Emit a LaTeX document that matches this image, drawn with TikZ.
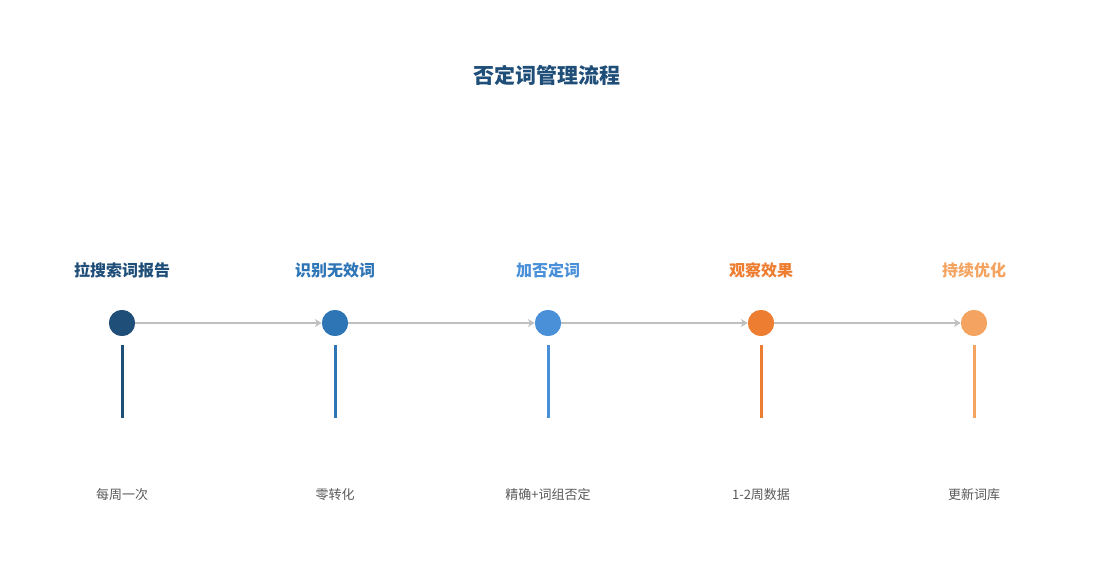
\documentclass[tikz,border=0pt]{standalone}
\usepackage{fontspec}
\newfontfamily\cjk{Noto Sans CJK SC}
\usetikzlibrary{arrows.meta}
\definecolor{c1}{HTML}{1F4E79}
\definecolor{c2}{HTML}{2E75B6}
\definecolor{c3}{HTML}{4A90D9}
\definecolor{c4}{HTML}{ED7D31}
\definecolor{c5}{HTML}{F4A460}
\definecolor{ln}{HTML}{BFBFBF}
\definecolor{tx}{HTML}{595959}
\begin{document}
\begin{tikzpicture}[x=1pt,y=-1pt,
  dot/.style={circle,fill=#1,minimum size=26pt,inner sep=0pt},
  head/.style={font=\cjk\bfseries\fontsize{16}{18}\selectfont,text=#1},
  note/.style={font=\cjk\fontsize{13}{15}\selectfont,text=tx},
  conn/.style={ln,line width=2.5pt,-{Stealth[length=7pt,width=8pt]}},
  stem/.style={#1,line width=3pt}]
\useasboundingbox (0,0) rectangle (1095,585);
\node[font=\cjk\bfseries\fontsize{21}{24}\selectfont,text=c1] (t) at (547,75) {否定词管理流程};
\foreach \i/\x/\c/\h/\n in {1/122/c1/拉搜索词报告/每周一次,2/335/c2/识别无效词/零转化/不相关,3/548/c3/加否定词/精确+词组否定,4/761/c4/观察效果/1-2周数据,5/974/c5/持续优化/更新词库}{
  \node[dot=\c] (d\i) at (\x,323) {};
  \node[head=\c] (h\i) at (\x,270) {\h};
  \node[note] (n\i) at (\x,495) {\n};
  \coordinate (s\i) at (\x,345);
  \coordinate (e\i) at (\x,418);
  \draw[stem=\c] (s\i) -- (e\i);
}
\foreach \a/\b in {1/2,2/3,3/4,4/5}{
  \draw[conn] (d\a) -- (d\b);
}
\foreach \i in {1,...,5}{\node[dot=c1,opacity=0] at (d\i) {};}
\node[dot=c1] at (d1) {};
\node[dot=c2] at (d2) {};
\node[dot=c3] at (d3) {};
\node[dot=c4] at (d4) {};
\node[dot=c5] at (d5) {};
\end{tikzpicture}
\end{document}
